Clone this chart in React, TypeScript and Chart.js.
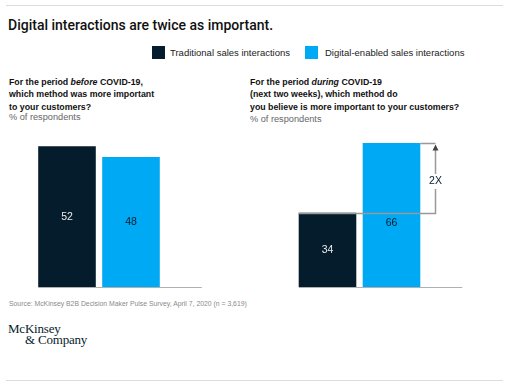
import React, { useEffect, useRef } from "react";
import { Chart, registerables } from "chart.js";
Chart.register(...registerables);

const categories = ["Traditional sales interactions", "Digital-enabled sales interactions"];
const beforeValues = [52, 48];
const duringValues = [34, 66];
const ratioLabel = "2X";

const DARK = "#051c2c";
const BLUE = "#00a9f4";
const SANS = "'Liberation Sans', Arial, sans-serif";
const barColors = [DARK, BLUE];
const labelColors = ["#ececec", DARK];

function makePlugin(annotate: boolean) {
  return {
    id: "valuesAndBase",
    afterDatasetsDraw(chart: any) {
      const ctx = chart.ctx;
      const meta = chart.getDatasetMeta(0);
      const b0 = meta.data[0];
      const b1 = meta.data[1];
      const w = b0.width;
      const y0 = Math.round(chart.scales.y.getPixelForValue(0)) + 0.5;
      ctx.save();
      ctx.strokeStyle = "#b0b0b0";
      ctx.lineWidth = 1;
      ctx.beginPath();
      ctx.moveTo(b0.x - w / 2, y0);
      ctx.lineTo(b1.x + w / 2 + 42, y0);
      ctx.stroke();

      if (annotate) {
        const yLow = Math.round(b0.y) + 0.5;
        const yHigh = Math.round(b1.y) + 0.5;
        const right = b1.x + w / 2;
        const xa = Math.round(right + 15) + 0.5;
        ctx.strokeStyle = "#999999";
        ctx.lineWidth = 1.5;
        ctx.beginPath();
        ctx.moveTo(b0.x - w / 2, yLow);
        ctx.lineTo(xa + 0.75, yLow);
        ctx.moveTo(right, yHigh);
        ctx.lineTo(xa, yHigh);
        ctx.moveTo(xa, yLow);
        ctx.lineTo(xa, yHigh + 4);
        ctx.stroke();
        ctx.fillStyle = "#444";
        ctx.beginPath();
        ctx.moveTo(xa, yHigh + 1);
        ctx.lineTo(xa - 3, yHigh + 7);
        ctx.lineTo(xa + 3, yHigh + 7);
        ctx.closePath();
        ctx.fill();
        const my = (yLow + yHigh) / 2 + 3;
        ctx.font = `10.5px ${SANS}`;
        const tw = ctx.measureText(ratioLabel).width;
        ctx.fillStyle = "#fff";
        ctx.fillRect(xa - tw / 2 - 2, my - 7.5, tw + 4, 15);
        ctx.fillStyle = DARK;
        ctx.textAlign = "center";
        ctx.textBaseline = "middle";
        ctx.fillText(ratioLabel, xa, my);
      }

      ctx.font = `10.5px ${SANS}`;
      ctx.textAlign = "center";
      ctx.textBaseline = "middle";
      const vals = chart.data.datasets[0].data;
      meta.data.forEach((bar: any, i: number) => {
        let y = (bar.y + bar.base) / 2;
        if (annotate && i === 1) y = b0.y + 10;
        ctx.fillStyle = labelColors[i];
        ctx.fillText(String(vals[i]), bar.x, y);
      });
      ctx.restore();
    },
  };
}

function BarPanel(props: {
  values: number[];
  yMax: number;
  left: number;
  width: number;
  padLeft: number;
  padRight: number;
  annotate: boolean;
}) {
  const ref = useRef<HTMLCanvasElement>(null);
  useEffect(() => {
    const chart = new Chart(ref.current as HTMLCanvasElement, {
      type: "bar",
      data: {
        labels: categories,
        datasets: [
          {
            data: props.values,
            backgroundColor: barColors,
            borderWidth: 0,
            categoryPercentage: 1,
            barPercentage: 0.9,
          },
        ],
      },
      options: {
        responsive: false,
        maintainAspectRatio: false,
        animation: false,
        layout: {
          padding: { left: props.padLeft, right: props.padRight, top: 10, bottom: 13 },
        },
        plugins: { legend: { display: false }, tooltip: { enabled: false } },
        scales: {
          x: { display: false },
          y: { display: false, min: 0, max: props.yMax },
        },
      },
      plugins: [makePlugin(props.annotate)],
    });
    return () => chart.destroy();
  }, []);
  return (
    <canvas
      ref={ref}
      width={props.width}
      height={180}
      style={{ position: "absolute", left: props.left, top: 120, width: props.width, height: 180 }}
    />
  );
}

const abs = (o: any) => ({ position: "absolute" as const, ...o });

export default function App() {
  const sub = {
    fontFamily: SANS,
    fontSize: 8.8,
    fontWeight: 700,
    lineHeight: "12.3px",
    color: "#111",
    whiteSpace: "nowrap" as const,
  };
  const resp = { fontFamily: SANS, fontSize: 9.2, lineHeight: "12px", color: "#666", whiteSpace: "nowrap" as const };
  return (
    <div style={abs({ left: 0, top: 0, width: 509, height: 385, background: "#fff", overflow: "hidden" })}>
      <div style={abs({ left: 6, top: 5, width: 497, height: 1, background: "#dcdcdc" })} />
      <div
        style={abs({
          left: 8,
          top: 16.5,
          fontFamily: "Roboto, " + SANS,
          fontWeight: 500,
          fontSize: 14,
          lineHeight: "16px",
          color: "#111",
          whiteSpace: "nowrap",
        })}
      >
        Digital interactions are twice as important.
      </div>
      <div style={abs({ left: 152, top: 46, width: 13, height: 13, background: DARK })} />
      <div style={abs({ left: 170, top: 47.4, fontFamily: SANS, fontSize: 9.5, lineHeight: "12px", color: "#222", whiteSpace: "nowrap" })}>
        {categories[0]}
      </div>
      <div style={abs({ left: 305, top: 46, width: 13, height: 13, background: BLUE })} />
      <div style={abs({ left: 325, top: 47.4, fontFamily: SANS, fontSize: 9.5, lineHeight: "12px", color: "#222", whiteSpace: "nowrap" })}>
        {categories[1]}
      </div>

      <div style={abs({ left: 9, top: 76.1, ...sub })}>
        For the period <i>before</i> COVID-19,
        <br />
        which method was more important
        <br />
        to your customers?
      </div>
      <div style={abs({ left: 9, top: 110.8, ...resp })}>% of respondents</div>

      <div style={abs({ left: 250, top: 76.1, ...sub })}>
        For the period <i>during</i> COVID-19
        <br />
        (next two weeks), which method do
        <br />
        you believe is more important to your customers?
      </div>
      <div style={abs({ left: 250, top: 112.5, ...resp })}>% of respondents</div>

      <BarPanel values={beforeValues} yMax={58} left={0} width={250} padLeft={35} padRight={87} annotate={false} />
      <BarPanel values={duringValues} yMax={72} left={250} width={259} padLeft={45.5} padRight={85.5} annotate={true} />

      <div style={abs({ left: 9, top: 300.2, fontFamily: SANS, fontSize: 6.85, lineHeight: "8px", color: "#8a8a8a", whiteSpace: "nowrap" })}>
        Source: McKinsey B2B Decision Maker Pulse Survey, April 7, 2020 (n = 3,619)
      </div>
      <div style={abs({ left: 8, top: 321.8, fontFamily: "'Liberation Serif', 'Times New Roman', serif", fontSize: 13, lineHeight: "13px", color: DARK, whiteSpace: "nowrap", letterSpacing: -0.2 })}>
        McKinsey
      </div>
      <div style={abs({ left: 25, top: 333.4, fontFamily: "'Liberation Serif', 'Times New Roman', serif", fontSize: 13, lineHeight: "13px", color: DARK, whiteSpace: "nowrap", letterSpacing: -0.2 })}>
        &amp; Company
      </div>
      <div style={abs({ left: 6, top: 380, width: 497, height: 1, background: "#dcdcdc" })} />
    </div>
  );
}
